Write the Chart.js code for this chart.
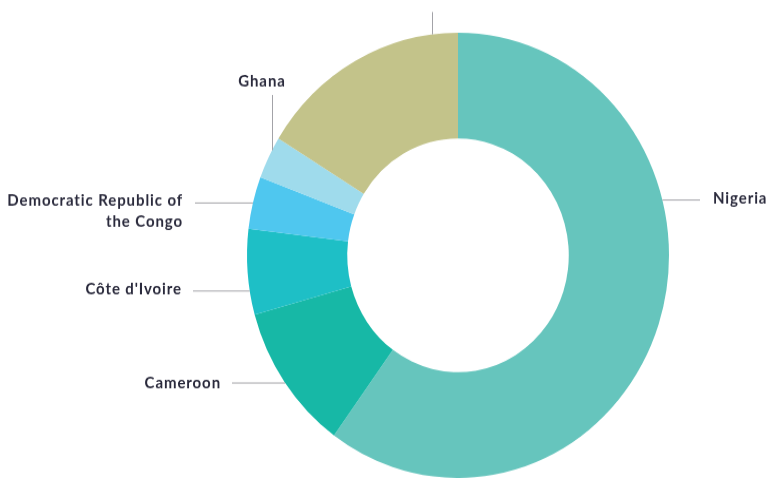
<!DOCTYPE html>
<html>
<head>
<meta charset="utf-8">
<script src="https://cdn.jsdelivr.net/npm/chart.js@4"></script>
<style>
  html, body { margin: 0; padding: 0; background: #fff; }
  body { width: 770px; height: 478px; overflow: hidden; }
  #wrap { width: 770px; height: 453px; transform: scaleY(1.055); transform-origin: 0 0; }
  #chartPaesi { display: block; }
</style>
</head>
<body>
<div id="wrap"><canvas id="chartPaesi" width="770" height="453"></canvas></div>
<script>
// dati: quota per paese (%)
const paesi = ['Nigeria', 'Cameroon', "Côte d'Ivoire", 'Democratic Republic of the Congo', 'Ghana', 'Other'];
const quote = [60.0, 10.7, 6.2, 3.8, 3.1, 16.2];
const colori = ['#66c5bd', '#17b8a6', '#1ebfc6', '#4fc7ef', '#9fdbec', '#c3c38a'];

const STRETCH = 1.055;

// etichette: righe di testo, posizione del testo e del filo (coordinate finali della pagina)
const etichette = [
  { righe: ['Nigeria'], x: 713, y: 199, align: 'left', filo: { y: 200, da: 700, lato: 'destra' } },
  { righe: ['Cameroon'], x: 221, y: 383, align: 'right', filo: { y: 383, da: 232, lato: 'sinistra' } },
  { righe: ["Côte d'Ivoire"], x: 182, y: 289, align: 'right', filo: { y: 291, da: 193, lato: 'sinistra' } },
  { righe: ['Democratic Republic of', 'the Congo'], x: 183, y: 201, align: 'right', filo: { y: 203, da: 195, lato: 'sinistra' } },
  { righe: ['Ghana'], x: 262, y: 81, align: 'center', filo: { x: 272, da: 95, lato: 'sopra' } },
  { righe: ['Other'], x: 432, y: -9, align: 'center', filo: { x: 432, da: 12, lato: 'sopra' } }
];

const pluginEtichette = {
  id: 'etichette',
  afterDraw(chart) {
    const arc = chart.getDatasetMeta(0).data[0];
    const cx = arc.x, cy = arc.y, R = arc.outerRadius;
    const ctx = chart.ctx;
    ctx.save();
    ctx.strokeStyle = '#a3a3a8';
    ctx.lineWidth = 1;
    ctx.fillStyle = '#2a2a3c';
    ctx.font = 'bold 15px Lato';
    ctx.letterSpacing = '0.9px';
    ctx.textBaseline = 'middle';
    etichette.forEach(e => {
      const f = e.filo;
      ctx.beginPath();
      if (f.lato === 'sopra') {
        const yEdge = cy - Math.sqrt(R * R - (f.x - cx) * (f.x - cx));
        ctx.moveTo(f.x + 0.5, f.da / STRETCH);
        ctx.lineTo(f.x + 0.5, yEdge);
      } else {
        const yy = f.y / STRETCH;
        const dx = Math.sqrt(R * R - (yy - cy) * (yy - cy));
        const xEdge = f.lato === 'destra' ? cx + dx : cx - dx;
        ctx.moveTo(f.da, yy);
        ctx.lineTo(xEdge, yy);
      }
      ctx.stroke();
      ctx.textAlign = e.align;
      e.righe.forEach((r, i) => {
        ctx.fillText(r, e.x, (e.y + i * 21) / STRETCH);
      });
    });
    ctx.restore();
  }
};

const ctx = document.getElementById('chartPaesi').getContext('2d');
new Chart(ctx, {
  type: 'doughnut',
  data: {
    labels: paesi,
    datasets: [{
      data: quote,
      backgroundColor: colori,
      borderWidth: 0
    }]
  },
  options: {
    responsive: false,
    maintainAspectRatio: false,
    animation: false,
    cutout: '52.5%',
    layout: { padding: { left: 247, right: 101, top: 31, bottom: 0 } },
    plugins: { legend: { display: false }, tooltip: { enabled: false } }
  },
  plugins: [pluginEtichette]
});
</script>
</body>
</html>
